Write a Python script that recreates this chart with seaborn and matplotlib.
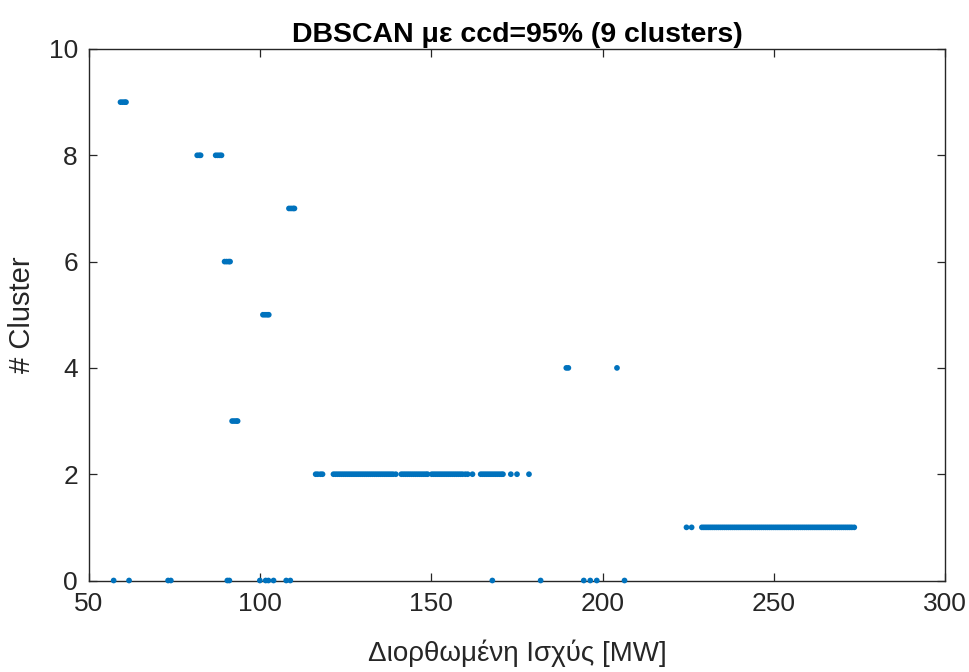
import matplotlib
matplotlib.use("Agg")
import matplotlib.pyplot as plt
import seaborn as sns
import pandas as pd

# Power values (MW) per cluster label
cluster0 = [57.2, 61.7, 73.1, 73.9, 90.4, 91.0, 99.9, 101.6, 102.4, 103.9,
            107.6, 108.8, 167.8, 181.9, 194.5, 196.4, 198.3, 206.4]
cluster1 = [224.5, 226.0,
            229.0, 229.6, 230.2, 230.8, 231.4, 232.0, 232.6, 233.2, 233.8, 234.4,
            235.0, 235.6, 236.2, 236.8, 237.4, 238.0, 238.6, 239.2, 239.8, 240.4,
            241.0, 241.6, 242.2, 242.8, 243.4, 244.0, 244.6, 245.2, 245.8, 246.4,
            247.0, 247.6, 248.2, 248.8, 249.4, 250.0, 250.6, 251.2, 251.8, 252.4,
            253.0, 253.6, 254.2, 254.8, 255.4, 256.0, 256.6, 257.2, 257.8, 258.4,
            259.0, 259.6, 260.2, 260.8, 261.4, 262.0, 262.6, 263.2, 263.8, 264.4,
            265.0, 265.6, 266.2, 266.8, 267.4, 268.0, 268.6, 269.2, 269.8, 270.4,
            271.0, 271.6, 272.2, 272.8, 273.5]
cluster2 = [116.2, 116.8, 117.6, 118.2,
            121.4, 122.0, 122.6, 123.2, 123.8, 124.4, 125.0, 125.6, 126.2, 126.8,
            127.4, 128.0, 128.6, 129.2, 129.8, 130.4, 131.0, 131.6, 132.2, 132.8,
            133.4, 134.0, 134.6, 135.2, 135.8, 136.4, 137.0, 137.6, 138.2, 138.8,
            139.6,
            141.2, 141.8, 142.4, 143.0, 143.6, 144.2, 144.8, 145.4, 146.0, 146.6,
            147.2, 147.8, 148.4, 148.9,
            150.1, 150.7, 151.3, 151.9, 152.5, 153.1, 153.7, 154.3, 154.9, 155.5,
            156.1, 156.7, 157.3, 157.9, 158.5, 159.1, 159.9, 160.6, 162.0,
            164.4, 165.0, 165.6, 166.2, 166.8, 167.4, 168.0, 168.6, 169.2, 169.8,
            170.4, 170.9,
            173.2, 175.0, 178.5]
cluster3 = [91.8, 92.4, 93.0, 93.4]
cluster4 = [189.4, 190.0, 204.2]
cluster5 = [100.8, 101.4, 102.0, 102.5]
cluster6 = [89.6, 90.2, 90.8, 91.2]
cluster7 = [108.4, 109.0, 109.6, 110.0]
cluster8 = [81.6, 82.2, 82.6, 87.0, 87.6, 88.2, 88.7]
cluster9 = [59.2, 59.8, 60.4, 60.8]

all_clusters = [cluster0, cluster1, cluster2, cluster3, cluster4,
                cluster5, cluster6, cluster7, cluster8, cluster9]

x_ticks = [50, 100, 150, 200, 250, 300]
y_ticks = [0, 2, 4, 6, 8, 10]

title = "DBSCAN με ccd=95% (9 clusters)"
xlabel = "Διορθωμένη Ισχύς [MW]"
ylabel = "# Cluster"

rows = []
for label, vals in enumerate(all_clusters):
    for v in vals:
        rows.append({"power": v, "cluster": label})
df = pd.DataFrame(rows)

sns.set_theme(style="white")
plt.rcParams["font.family"] = ["Liberation Sans", "DejaVu Sans"]

fig = plt.figure(figsize=(9.7, 6.72), dpi=100)
ax = fig.add_axes([89 / 970, 1 - 580.5 / 672, (945 - 89) / 970, (580.5 - 49) / 672])

sns.scatterplot(data=df, x="power", y="cluster", ax=ax, color="#0072BD",
                s=17, edgecolor="none", linewidth=0, clip_on=False, zorder=5)

ax.set_xlim(50, 300)
ax.set_ylim(0, 10)
ax.set_xticks(x_ticks)
ax.set_yticks(y_ticks)
ax.set_xticklabels([str(t) for t in x_ticks])
ax.set_yticklabels([str(t) for t in y_ticks])

for sp in ax.spines.values():
    sp.set_visible(True)
    sp.set_color("#262626")
    sp.set_linewidth(1.0)

ax.tick_params(axis="both", which="both", direction="in", length=6, width=0.9,
               colors="#262626", labelcolor="#262626", labelsize=19,
               top=True, right=True, bottom=True, left=True)
ax.tick_params(axis="x", pad=8)
ax.tick_params(axis="y", pad=8)

ax.set_title(title, fontsize=20.5, fontweight="bold", color="black", pad=5)
ax.set_xlabel(xlabel, fontsize=20, color="#262626", labelpad=17)
ax.set_ylabel(ylabel, fontsize=21, color="#262626", labelpad=9)
ax.grid(False)

fig.savefig("out.png", dpi=100)
